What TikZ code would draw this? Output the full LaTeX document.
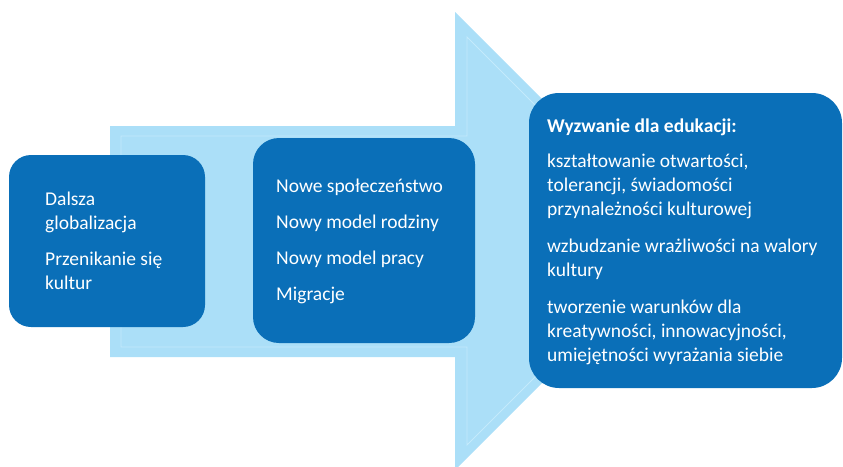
\documentclass[tikz,border=0pt]{standalone}
\usepackage{fontspec}
\setmainfont{Carlito}
\definecolor{arrowblue}{RGB}{171,223,248}
\definecolor{arrowedge}{RGB}{196,234,252}
\definecolor{boxblue}{RGB}{10,111,184}
\tikzset{
  bigbox/.style={fill=boxblue, draw=none},
  % anchored at the baseline of the last line
  boxtext/.style={anchor=base west, align=left, text=white, inner sep=0pt,
    font=\fontsize{19.5}{24}\selectfont},
}
\begin{document}
\begin{tikzpicture}[x=1pt,y=-1pt]
\useasboundingbox (0,0) rectangle (843,466);
\clip (0,0) rectangle (843,466);
% background arrow
\fill[arrowblue] (110,126) -- (455,126) -- (455,12) -- (684,241) -- (455,470)
  -- (455,357) -- (110,357) -- cycle;
\draw[arrowedge, line width=0.8pt] (121,136) -- (467,136) -- (467,37) -- (671,241)
  -- (467,445) -- (467,347) -- (121,347) -- cycle;
% boxes
\fill[bigbox, rounded corners=22pt] (9,155) rectangle (205,327);
\fill[bigbox, rounded corners=26pt] (253,138) rectangle (475,343);
\fill[bigbox, rounded corners=30pt] (529,93) rectangle (842,388);
% texts
\node[boxtext] (t1) at (45,289) {Dalsza\\globalizacja\\[12pt]Przenikanie się\\kultur};
\node[boxtext] (t2) at (276,300) {Nowe społeczeństwo\\[12pt]Nowy model rodziny\\[12pt]Nowy model pracy\\[12pt]Migracje};
\node[boxtext] (t3) at (547,361) {\textbf{Wyzwanie dla edukacji:}\\[11pt]kształtowanie otwartości,\\tolerancji, świadomości\\przynależności kulturowej\\[13pt]wzbudzanie wrażliwości na walory\\kultury\\[13pt]tworzenie warunków dla\\kreatywności, innowacyjności,\\umiejętności wyrażania siebie};
\end{tikzpicture}
\end{document}
